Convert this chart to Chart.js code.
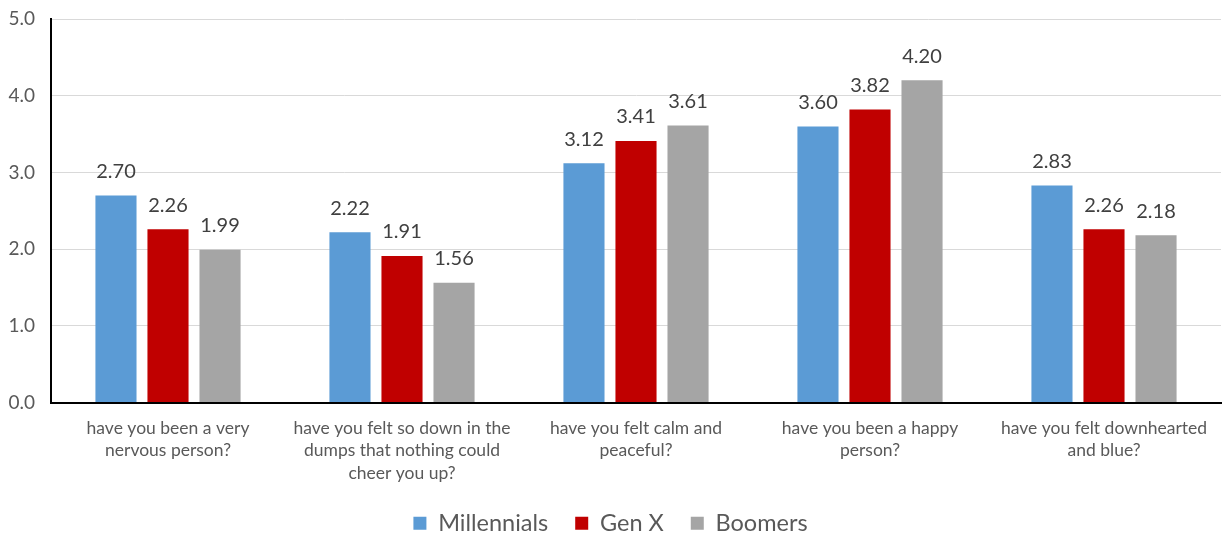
<!DOCTYPE html>
<html><head><meta charset="utf-8">
<script src="https://cdn.jsdelivr.net/npm/chart.js@4.4.1/dist/chart.umd.min.js"></script>
<style>html,body{margin:0;padding:0;background:#fff}#wrap{width:1225px;height:535px}</style>
</head><body><div id="wrap"><canvas id="c" width="1225" height="535"></canvas></div>
<script>
const categories = [
  ["have you been a very","nervous person?"],
  ["have you felt so down in the","dumps that nothing could","cheer you up?"],
  ["have you felt calm and","peaceful?"],
  ["have you been a happy","person?"],
  ["have you felt downhearted","and blue?"]
];
const millennials = [2.70, 2.22, 3.12, 3.60, 2.83];
const genX = [2.26, 1.91, 3.41, 3.82, 2.26];
const boomers = [1.99, 1.56, 3.61, 4.20, 2.18];
const yTicks = [0, 1, 2, 3, 4, 5];

const FONT = "Lato, 'Open Sans', sans-serif";

const labelPlugin = {
  id: 'vals',
  afterDatasetsDraw(chart) {
    const ctx = chart.ctx;
    ctx.save();
    ctx.font = "20px " + FONT;
    ctx.fillStyle = '#404040';
    ctx.textAlign = 'center';
    ctx.textBaseline = 'bottom';
    chart.data.datasets.forEach((ds, i) => {
      const meta = chart.getDatasetMeta(i);
      meta.data.forEach((bar, j) => {
        ctx.fillText(ds.data[j].toFixed(2), bar.x, bar.y - 14);
      });
    });
    ctx.restore();
  }
};

new Chart(document.getElementById('c'), {
  type: 'bar',
  data: {
    labels: categories,
    datasets: [
      {label: 'Millennials', data: millennials, backgroundColor: '#5b9bd5'},
      {label: 'Gen X', data: genX, backgroundColor: '#c00000'},
      {label: 'Boomers', data: boomers, backgroundColor: '#a5a5a5'}
    ]
  },
  options: {
    responsive: false,
    animation: false,
    layout: {padding: {top: 19, left: 0, right: 4, bottom: -10}},
    datasets: {bar: {categoryPercentage: 0.667, barPercentage: 0.79}},
    plugins: {
      legend: {
        position: 'bottom',
        labels: {
          font: {size: 23.5, family: FONT},
          color: '#595959',
          boxWidth: 13, boxHeight: 13,
          padding: 27
        }
      },
      tooltip: {enabled: false}
    },
    scales: {
      x: {
        grid: {display: false, drawTicks: false},
        border: {color: '#000', width: 2},
        ticks: {font: {size: 17.5, family: FONT, lineHeight: 1.3}, color: '#595959', padding: 14, maxRotation: 0, autoSkip: false},
        afterFit(s) { s.height = 82; s.paddingLeft = 0; s.paddingRight = 0; }
      },
      y: {
        min: 0, max: 5,
        afterBuildTicks(s) { s.ticks = yTicks.map(v => ({value: v})); },
        grid: {color: '#d9d9d9', lineWidth: 1, drawTicks: false},
        border: {color: '#000', width: 2},
        ticks: {font: {size: 19, family: FONT}, color: '#595959', padding: 16, callback: v => v.toFixed(1)},
        afterFit(s) { s.width = 51; s.paddingTop = 0; s.paddingBottom = 0; }
      }
    }
  },
  plugins: [labelPlugin]
});
</script></body></html>
